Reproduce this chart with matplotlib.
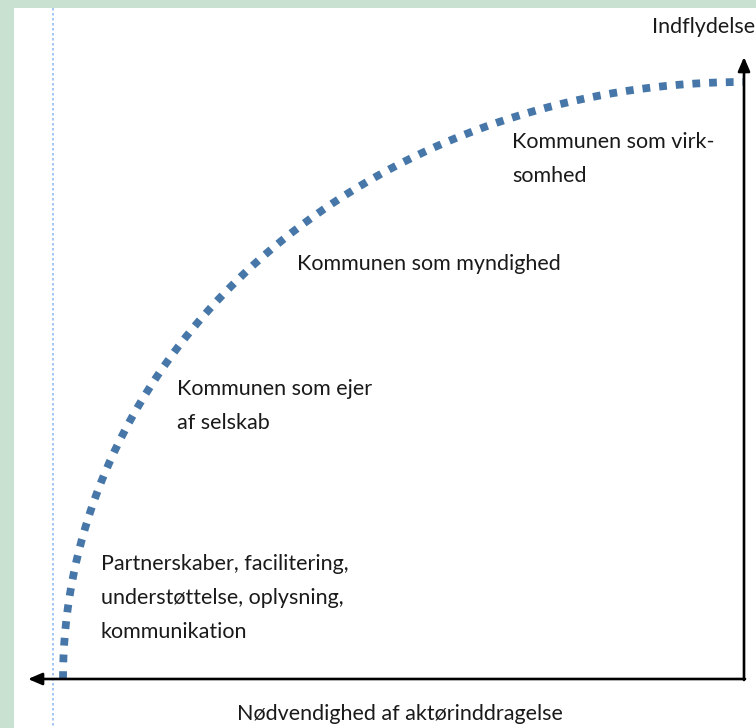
import numpy as np
import matplotlib.pyplot as plt
from matplotlib.patches import Rectangle

# figur i pixel-koordinater (756 x 728)
W, H = 756, 728

# aksernes begyndelse / ende
origin = (744, 679)
x_arrow_end = 28
y_arrow_end = 57

# kurven: kvart-ellipse omkring origo
curve_a = 681
curve_b = 597

# tekster: (x, baseline for første linje, linjer)
labels = [
    (512, 148, ["Kommunen som virk-", "somhed"]),
    (297, 270, ["Kommunen som myndighed"]),
    (177, 395, ["Kommunen som ejer", "af selskab"]),
    (101, 570, ["Partnerskaber, facilitering,", "understøttelse, oplysning,", "kommunikation"]),
]
line_step = 34
x_title = "Nødvendighed af aktørinddragelse"
y_title = "Indflydelse"

plt.rcParams['font.family'] = ['Lato', 'DejaVu Sans']
fs = 15.5

fig = plt.figure(figsize=(W / 100, H / 100), dpi=100, facecolor='#c8e1d1')
ax = fig.add_axes([0, 0, 1, 1])
ax.set_xlim(0, W)
ax.set_ylim(H, 0)
ax.axis('off')

# hvid tegneflade
ax.add_patch(Rectangle((14, 8), W - 14, H - 8, facecolor='white', edgecolor='none', zorder=0))

# lyseblå hjælpelinje
ax.plot([53, 53], [8, H], color='#93bff2', lw=1.2, ls=(0, (1.5, 1.5)), zorder=1)

# stiplet kurve
t = np.linspace(0, np.pi / 2, 400)
cx = origin[0] - curve_a * np.cos(t)
cy = origin[1] - curve_b * np.sin(t)
ax.plot(cx, cy, color='#4677a8', lw=5.6, ls=(0, (1, 1.15)),
        dash_capstyle='butt', solid_capstyle='butt', zorder=2)

# akser med pile
arrow = dict(arrowstyle='-|>,head_length=0.7,head_width=0.3', color='black',
             lw=1.9, mutation_scale=12, shrinkA=0, shrinkB=0)
ax.annotate('', xy=(x_arrow_end, origin[1]), xytext=(origin[0] + 1, origin[1]),
            arrowprops=arrow, zorder=3)
ax.annotate('', xy=(origin[0], y_arrow_end), xytext=(origin[0], origin[1] + 1),
            arrowprops=arrow, zorder=3)

for x, y, lines in labels:
    for i, s in enumerate(lines):
        ax.text(x, y + i * line_step, s, fontsize=fs, color='#1a1a1a',
                ha='left', va='baseline')

ax.text(400, 720, x_title, fontsize=fs, color='#1a1a1a', ha='center', va='baseline')
ax.text(W - 1, 33, y_title, fontsize=fs, color='#1a1a1a', ha='right', va='baseline')

fig.savefig('out.png', dpi=100, facecolor=fig.get_facecolor())
